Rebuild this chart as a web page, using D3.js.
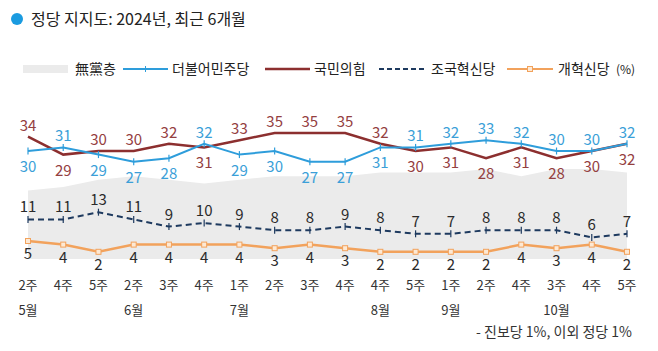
<!DOCTYPE html>
<html><head><meta charset="utf-8">
<script src="https://cdn.jsdelivr.net/npm/d3@7"></script>
<style>body{margin:0;background:#fff}svg{display:block}text{font-family:"Noto Sans CJK KR","Noto Sans",sans-serif}</style>
</head><body><svg id="c" width="658" height="351"></svg>
<script>
const weeks = ["2주","4주","5주","2주","3주","4주","1주","2주","3주","4주","4주","5주","1주","2주","4주","3주","4주","5주"];
const months = [{i:0,t:"5월"},{i:3,t:"6월"},{i:6,t:"7월"},{i:10,t:"8월"},{i:12,t:"9월"},{i:15,t:"10월"}];
const noParty = [19,20,22,23,22,21,22,23,23,23,24,24,24,25,23,25,25,24];
const dem = [30,31,29,27,28,32,29,30,27,27,31,31,32,33,32,30,30,32];
const ppp = [34,29,30,30,32,31,33,35,35,35,32,30,31,28,31,28,30,32];
const cho = [11,11,13,11,9,10,9,8,8,9,8,7,7,8,8,8,6,7];
const reform = [5,4,2,4,4,4,4,3,4,3,2,2,2,2,4,3,4,2];

const C = {gray:"#ebebeb", dem:"#2e9ddb", demT:"#3b9fd8", ppp:"#8c2f2f", pppT:"#94403f", cho:"#1e3a5f", ref:"#f2a25c", txt:"#222"};
const svg = d3.select("#c");
const x = d3.scaleLinear().domain([0, weeks.length-1]).range([28, 627]);
const y = d3.scaleLinear().domain([0, 40]).range([259, 115]);
const idx = d3.range(weeks.length);

// title
svg.append("circle").attr("cx",17).attr("cy",19).attr("r",6).attr("fill","#1a9be0");
svg.append("text").attr("x",31).attr("y",25).attr("font-size",16).attr("fill",C.txt).text("정당 지지도: 2024년, 최근 6개월");

// legend
const ly = 69;
svg.append("rect").attr("x",23).attr("y",65).attr("width",45).attr("height",8).attr("fill",C.gray);
svg.append("text").attr("x",75).attr("y",ly+5).attr("font-size",14).attr("fill",C.txt).text("無黨층");
svg.append("line").attr("x1",123).attr("x2",168).attr("y1",ly).attr("y2",ly).attr("stroke",C.dem).attr("stroke-width",2);
svg.append("line").attr("x1",145.5).attr("x2",145.5).attr("y1",ly-3).attr("y2",ly+3).attr("stroke",C.dem).attr("stroke-width",1);
svg.append("text").attr("x",172).attr("y",ly+5).attr("font-size",14).attr("fill",C.txt).text("더불어민주당");
svg.append("line").attr("x1",265).attr("x2",310).attr("y1",ly).attr("y2",ly).attr("stroke",C.ppp).attr("stroke-width",2.5);
svg.append("text").attr("x",314).attr("y",ly+5).attr("font-size",14).attr("fill",C.txt).text("국민의힘");
svg.append("line").attr("x1",379).attr("x2",427).attr("y1",ly).attr("y2",ly).attr("stroke",C.cho).attr("stroke-width",2).attr("stroke-dasharray","5,3");
svg.append("text").attr("x",431).attr("y",ly+5).attr("font-size",14).attr("fill",C.txt).text("조국혁신당");
svg.append("line").attr("x1",507).attr("x2",553).attr("y1",ly).attr("y2",ly).attr("stroke",C.ref).attr("stroke-width",2);
svg.append("rect").attr("x",527.5).attr("y",ly-2.5).attr("width",5).attr("height",5).attr("fill","#fde9d4").attr("stroke",C.ref).attr("stroke-width",1);
svg.append("text").attr("x",558).attr("y",ly+5).attr("font-size",14).attr("fill",C.txt).text("개혁신당 ");
svg.append("text").attr("x",616).attr("y",ly+5).attr("font-size",12).attr("fill",C.txt).text("(%)");

// area
svg.append("path").datum(idx).attr("fill",C.gray)
  .attr("d", d3.area().x(i=>x(i)).y0(y(0)).y1(i=>y(noParty[i])));

const line = arr => d3.line().x(i=>x(i)).y(i=>y(arr[i]));
svg.append("path").datum(idx).attr("fill","none").attr("stroke",C.ref).attr("stroke-width",2.5).attr("d",line(reform));
svg.append("path").datum(idx).attr("fill","none").attr("stroke",C.cho).attr("stroke-width",2).attr("stroke-dasharray","6,4").attr("d",line(cho));
svg.append("path").datum(idx).attr("fill","none").attr("stroke",C.ppp).attr("stroke-width",2.5).attr("d",line(ppp));
svg.append("path").datum(idx).attr("fill","none").attr("stroke",C.dem).attr("stroke-width",2).attr("d",line(dem));

// markers
idx.forEach(i=>{
  svg.append("line").attr("x1",x(i)).attr("x2",x(i)).attr("y1",y(dem[i])-3.5).attr("y2",y(dem[i])+3.5).attr("stroke",C.dem).attr("stroke-width",1.2);
  svg.append("line").attr("x1",x(i)).attr("x2",x(i)).attr("y1",y(cho[i])-3.5).attr("y2",y(cho[i])+3.5).attr("stroke",C.cho).attr("stroke-width",1.2);
  svg.append("rect").attr("x",x(i)-2.5).attr("y",y(reform[i])-2.5).attr("width",5).attr("height",5).attr("fill","#fde9d4").attr("stroke",C.ref).attr("stroke-width",1);
});

// labels
const lab = (i,v,dy,col)=>svg.append("text").attr("x",x(i)).attr("y",y(v)+dy).attr("text-anchor","middle").attr("font-size",15).attr("fill",col).text(v);
idx.forEach(i=>{
  const demUp = dem[i] >= ppp[i];
  lab(i,dem[i], demUp?-6:21, C.demT);
  lab(i,ppp[i], demUp?21:-6, C.pppT);
  lab(i,cho[i], -7, "#2a2a2a");
  lab(i,reform[i], 18, "#2a2a2a");
});

// x labels
idx.forEach(i=>{
  svg.append("text").attr("x",x(i)).attr("y",289.5).attr("text-anchor","middle").attr("font-size",13).attr("fill","#333").text(weeks[i]);
});
months.forEach(m=>{
  svg.append("text").attr("x",x(m.i)).attr("y",315).attr("text-anchor","middle").attr("font-size",13).attr("fill","#333").text(m.t);
});
svg.append("text").attr("x",632).attr("y",337).attr("text-anchor","end").attr("font-size",14).attr("fill","#333").text("- 진보당 1%, 이외 정당 1%");
</script></body></html>
